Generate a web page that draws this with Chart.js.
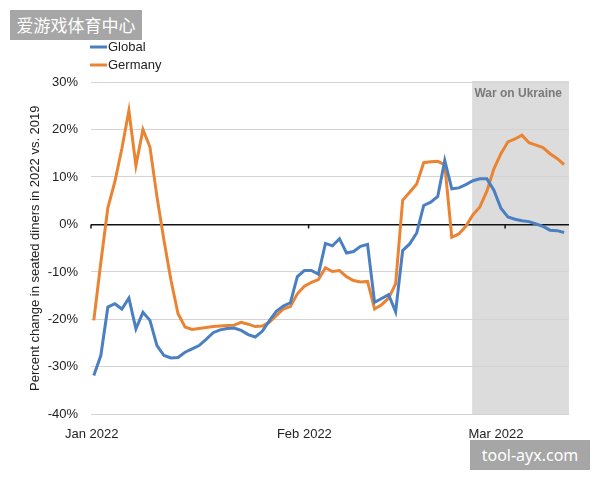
<!DOCTYPE html>
<html>
<head>
<meta charset="utf-8">
<script src="https://cdn.jsdelivr.net/npm/chart.js@4/dist/chart.umd.min.js"></script>
<style>
  body { margin: 0; background: #fff; }
  #wrap { position: relative; width: 600px; height: 480px; }
  .mark { position: absolute; background: #a6a6a6; color: #fff; font-family: "Noto Sans CJK SC", "Noto Sans", sans-serif; }
  #mk1 { left: 10px; top: 10px; width: 132px; height: 30px; font-size: 17px; line-height: 30px; text-align: center; }
  #mk2 { left: 470px; top: 440px; width: 120px; height: 30px; font-size: 16px; line-height: 30px; text-align: center; font-family: "Noto Sans", sans-serif; }
</style>
</head>
<body>
<div id="wrap">
  <canvas id="graf" width="600" height="480"></canvas>
  <div class="mark" id="mk1">爱游戏体育中心</div>
  <div class="mark" id="mk2">tool-ayx.com</div>
</div>
<script>
// one value per day, starting Jan 1 2022
let days = []
for (let i = 0; i < 68; i++) days.push(i)

let global = [
  -31.8, -27.6, -17.4, -16.7, -17.8, -15.5, -22.0, -18.5, -20.2, -25.5,
  -27.6, -28.1, -28.0, -26.9, -26.2, -25.5, -24.2, -22.8, -22.2, -21.9,
  -21.8, -22.3, -23.2, -23.7, -22.5, -20.3, -18.3, -17.2, -16.5, -11.0,
  -9.7, -9.7, -10.5, -4.0, -4.5, -3.0, -6.0, -5.7, -4.6, -4.2,
  -16.4, -15.6, -14.8, -18.4, -5.5, -4.1, -1.8, 4.0, 4.7, 5.9,
  13.5, 7.5, 7.7, 8.4, 9.2, 9.6, 9.6, 7.2, 3.4, 1.6,
  1.1, 0.8, 0.6, 0.1, -0.4, -1.2, -1.3, -1.7
]
let germany = [
  -20.2, -8.0, 3.5, 9.0, 16.0, 24.0, 12.4, 20.0, 16.3, 5.8,
  -3.4, -11.8, -18.8, -21.6, -22.1, -21.9, -21.7, -21.5, -21.4, -21.3,
  -21.2, -20.6, -21.0, -21.5, -21.4, -20.6, -19.2, -17.8, -17.3, -14.6,
  -13.0, -12.2, -11.6, -9.1, -9.9, -9.7, -11.0, -11.8, -12.1, -12.0,
  -17.8, -16.9, -15.5, -12.5, 5.1, 6.8, 8.5, 13.0, 13.2, 13.3,
  12.6, -2.7, -2.0, -0.4, 2.0, 3.7, 7.0, 11.7, 14.9, 17.4,
  18.0, 18.8, 17.2, 16.7, 16.2, 14.9, 13.9, 12.6
]
let monthLabels = ["Jan 2022", "Feb 2022", "Mar 2022"]
let monthStarts = [-0.4, 30.6, 58.6]
let labelDays = [-0.3, 30, 57.3]
let warStart = 53.9
let warLabel = "War on Ukraine"

const graph = document.getElementById('graf')

const extras = {
  id: 'extras',
  beforeDraw(chart) {
    let ctx = chart.ctx
    let a = chart.chartArea
    let x0 = chart.scales.x.getPixelForValue(warStart)
    ctx.save()
    ctx.fillStyle = "#dcdcdc"
    ctx.fillRect(x0, a.top - 1, a.right - x0, a.bottom - a.top + 1)
    ctx.restore()
  },
  afterDatasetsDraw(chart) {
    let ctx = chart.ctx
    let a = chart.chartArea
    let y0 = chart.scales.y.getPixelForValue(0)
    ctx.save()
    ctx.strokeStyle = "#111"
    ctx.lineWidth = 1.5
    for (let i = 0; i < monthStarts.length; i++) {
      let x = chart.scales.x.getPixelForValue(monthStarts[i])
      ctx.beginPath()
      ctx.moveTo(x, y0)
      ctx.lineTo(x, y0 + 4)
      ctx.stroke()
    }
    ctx.font = "bold 12px 'Liberation Sans', Arial, sans-serif"
    ctx.fillStyle = "#7a7a7a"
    ctx.textAlign = "right"
    ctx.textBaseline = "middle"
    ctx.fillText(warLabel, a.right - 7, a.top + 12)
    // legend, one item per line
    let names = chart.data.datasets
    ctx.font = "13px 'Liberation Sans', Arial, sans-serif"
    ctx.textAlign = "left"
    ctx.fillStyle = "#222"
    for (let i = 0; i < names.length; i++) {
      let y = 47 + i * 18
      ctx.strokeStyle = names[i].borderColor
      ctx.lineWidth = 3
      ctx.beginPath()
      ctx.moveTo(90, y)
      ctx.lineTo(107, y)
      ctx.stroke()
      ctx.fillText(names[i].label, 108, y)
    }
    ctx.restore()
  }
}

new Chart(graph, {
  type: "line",
  data: {
    labels: days,
    datasets: [{
      label: "Global",
      data: global.map((v, i) => ({x: days[i], y: v})),
      borderColor: "#4a7fc1",
      backgroundColor: "#4a7fc1",
      borderWidth: 3,
      pointRadius: 0,
      tension: 0,
      fill: false
    }, {
      label: "Germany",
      data: germany.map((v, i) => ({x: days[i], y: v})),
      borderColor: "#ea8433",
      backgroundColor: "#ea8433",
      borderWidth: 3,
      pointRadius: 0,
      tension: 0,
      fill: false
    }]
  },
  options: {
    responsive: false,
    animation: false,
    layout: { padding: { left: 28, right: 31, top: 82, bottom: 34 } },
    plugins: {
      legend: { display: false },
      tooltip: { enabled: false }
    },
    scales: {
      x: {
        type: "linear",
        min: -0.4,
        max: 67.7,
        grid: { display: false },
        border: { display: false },
        afterBuildTicks: (axis) => { axis.ticks = labelDays.map(v => ({value: v})) },
        ticks: {
          autoSkip: false,
          maxRotation: 0,
          padding: 4,
          color: "#222",
          font: { family: "'Liberation Sans', Arial, sans-serif", size: 13 },
          callback: (v, i) => monthLabels[i]
        }
      },
      y: {
        min: -40,
        max: 30,
        border: { display: false },
        afterFit: (axis) => { axis.width = 63 },
        grid: {
          drawTicks: false,
          color: (c) => c.tick.value === 0 ? "#111" : "#d4d4d4",
          lineWidth: (c) => c.tick.value === 0 ? 1.5 : 1
        },
        ticks: {
          stepSize: 10,
          padding: 13,
          color: "#222",
          font: { family: "'Liberation Sans', Arial, sans-serif", size: 13 },
          callback: (v) => v + "%"
        },
        title: {
          display: true,
          text: "Percent change in seated diners in 2022 vs. 2019",
          color: "#222",
          padding: 0,
          font: { family: "'Liberation Sans', Arial, sans-serif", size: 13 }
        }
      }
    }
  },
  plugins: [extras]
})
</script>
</body>
</html>
